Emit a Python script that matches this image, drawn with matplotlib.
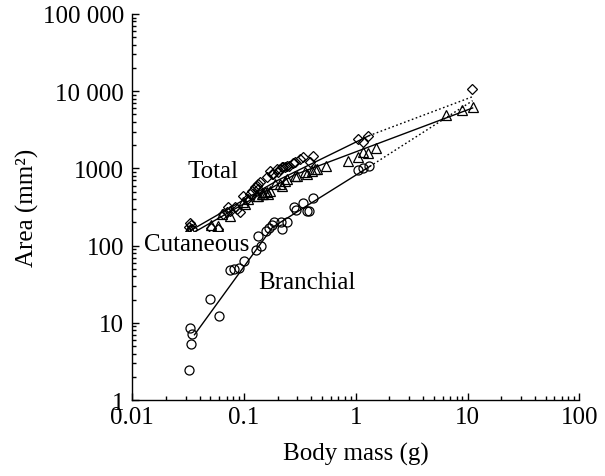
import matplotlib
matplotlib.use("Agg")
import matplotlib.pyplot as plt
from matplotlib.ticker import FixedLocator, LogLocator, NullFormatter

plt.rcParams['font.family'] = ['Liberation Serif', 'DejaVu Serif']

# ---- data (body mass g, area mm^2) ----
branchial_mass = [0.0322, 0.0330, 0.0342, 0.0335, 0.050, 0.060, 0.075, 0.082, 0.091,
                  0.100, 0.128, 0.1325, 0.141, 0.157, 0.168, 0.177, 0.185, 0.213,
                  0.217, 0.241, 0.280, 0.290, 0.335, 0.364, 0.384, 0.411, 1.04, 1.15, 1.31]
branchial_area = [2.47, 8.5, 7.2, 5.3, 20.3, 12.4, 48, 50, 52,
                  64, 87, 132, 99, 156, 168, 185, 200, 200,
                  163, 204, 319, 292, 353, 278, 283, 414, 945, 997, 1059]

total_mass = [0.0328, 0.0335, 0.0322, 0.0342, 0.051, 0.059, 0.0652, 0.070, 0.072, 0.0748,
              0.083, 0.086, 0.092, 0.0984, 0.107, 0.112, 0.117, 0.125, 0.130, 0.134,
              0.134, 0.139, 0.160, 0.171, 0.177, 0.183, 0.196, 0.202, 0.210, 0.217,
              0.225, 0.232, 0.241, 0.254, 0.276, 0.286, 0.317, 0.339, 0.389, 0.417,
              1.04, 1.15, 1.29, 11.0]
total_area = [196, 185, 175, 165, 168, 165, 257, 270, 313, 283,
              313, 298, 270, 443, 400, 470, 514, 569, 597, 628,
              541, 661, 767, 934, 846, 846, 982, 890, 982, 1033,
              1033, 1033, 1064, 1084, 1175, 1199, 1324, 1393, 1199, 1461,
              2404, 2218, 2654, 10700]

cutaneous_mass = [0.0315, 0.0310, 0.0328, 0.051, 0.059, 0.0631, 0.0748, 0.098, 0.102,
                  0.109, 0.130, 0.134, 0.144, 0.149, 0.154, 0.160, 0.165, 0.171, 0.189,
                  0.210, 0.217, 0.232, 0.241, 0.286, 0.296, 0.351, 0.364, 0.403, 0.432,
                  0.447, 0.541, 0.857, 1.04, 1.17, 1.29, 1.52, 6.38, 8.87, 11.1]
cutaneous_area = [156, 141, 165, 185, 178, 257, 244, 362, 346,
                  400, 443, 443, 466, 466, 490, 490, 466, 514, 628,
                  628, 597, 693, 729, 804, 804, 890, 846, 934, 982,
                  982, 1064, 1259, 1418, 1617, 1590, 1810, 4960, 5710, 6190]

# fitted relationships
total_fit_mass = [0.034, 0.2, 1.31]
total_fit_area = [160, 700, 2650]
total_ext_mass = [1.31, 11.1]
total_ext_area = [2650, 8490]

cutaneous_fit_mass = [0.0335, 0.28, 11.1]
cutaneous_fit_area = [141, 820, 6060]

branchial_fit_mass = [0.036, 0.18, 1.34]
branchial_fit_area = [7, 173, 1065]
branchial_ext_mass = [1.34, 11.1]
branchial_ext_area = [1065, 7530]

x_ticks = [0.01, 0.1, 1, 10, 100]
x_labels = ['0.01', '0.1', '1', '10', '100']
y_ticks = [1, 10, 100, 1000, 10000, 100000]
y_labels = ['1', '10', '100', '1000', '10 000', '100 000']

# ---- figure ----
fig = plt.figure(figsize=(6.05, 4.77), dpi=100)
ax = fig.add_axes([0.2187, 0.1593, 0.9575 - 0.2187, 0.9686 - 0.1593])
ax.set_xscale('log')
ax.set_yscale('log')
ax.set_xlim(0.01, 100)
ax.set_ylim(1, 100000)

lw = 1.0
dot = (0, (1.2, 1.8))
ax.plot(total_fit_mass, total_fit_area, color='black', lw=lw, zorder=2)
ax.plot(total_ext_mass, total_ext_area, color='black', lw=lw, linestyle=dot, zorder=2)
ax.plot(cutaneous_fit_mass, cutaneous_fit_area, color='black', lw=lw, zorder=2)
ax.plot(branchial_fit_mass, branchial_fit_area, color='black', lw=lw, zorder=2)
ax.plot(branchial_ext_mass, branchial_ext_area, color='black', lw=lw, linestyle=dot, zorder=2)

mk = dict(linestyle='none', mfc='none', mec='black', mew=0.9, zorder=3)
ax.plot(branchial_mass, branchial_area, marker='o', ms=6.5, **mk)
ax.plot(cutaneous_mass, cutaneous_area, marker='^', ms=6.5, **mk)
ax.plot(total_mass, total_area, marker='D', ms=5.0, **mk)

fs = 18
ax.text(0.0527, 925, 'Total', fontsize=fs, ha='center', va='center')
ax.text(0.0373, 105, 'Cutaneous', fontsize=fs, ha='center', va='center',
        bbox=dict(facecolor='white', edgecolor='none', pad=0.5))
ax.text(0.365, 33.8, 'Branchial', fontsize=fs, ha='center', va='center')

ax.xaxis.set_major_locator(FixedLocator(x_ticks))
ax.set_xticklabels(x_labels)
ax.yaxis.set_major_locator(FixedLocator(y_ticks))
ax.set_yticklabels(y_labels)
ax.xaxis.set_minor_locator(LogLocator(base=10, subs=range(2, 10), numticks=20))
ax.yaxis.set_minor_locator(LogLocator(base=10, subs=range(2, 10), numticks=20))
ax.xaxis.set_minor_formatter(NullFormatter())
ax.yaxis.set_minor_formatter(NullFormatter())

ax.tick_params(which='both', direction='in', labelsize=fs, width=1.0)
ax.tick_params(axis='x', which='major', length=5, pad=4)
ax.tick_params(axis='y', which='major', length=5, pad=6)
ax.tick_params(which='minor', length=3)

for s in ['top', 'right']:
    ax.spines[s].set_visible(False)
for s in ['left', 'bottom']:
    ax.spines[s].set_linewidth(1.0)

ax.set_xlabel('Body mass (g)', fontsize=fs, labelpad=10)
ax.set_ylabel('Area (mm²)', fontsize=fs, labelpad=3)

fig.savefig('out.png', dpi=100)
